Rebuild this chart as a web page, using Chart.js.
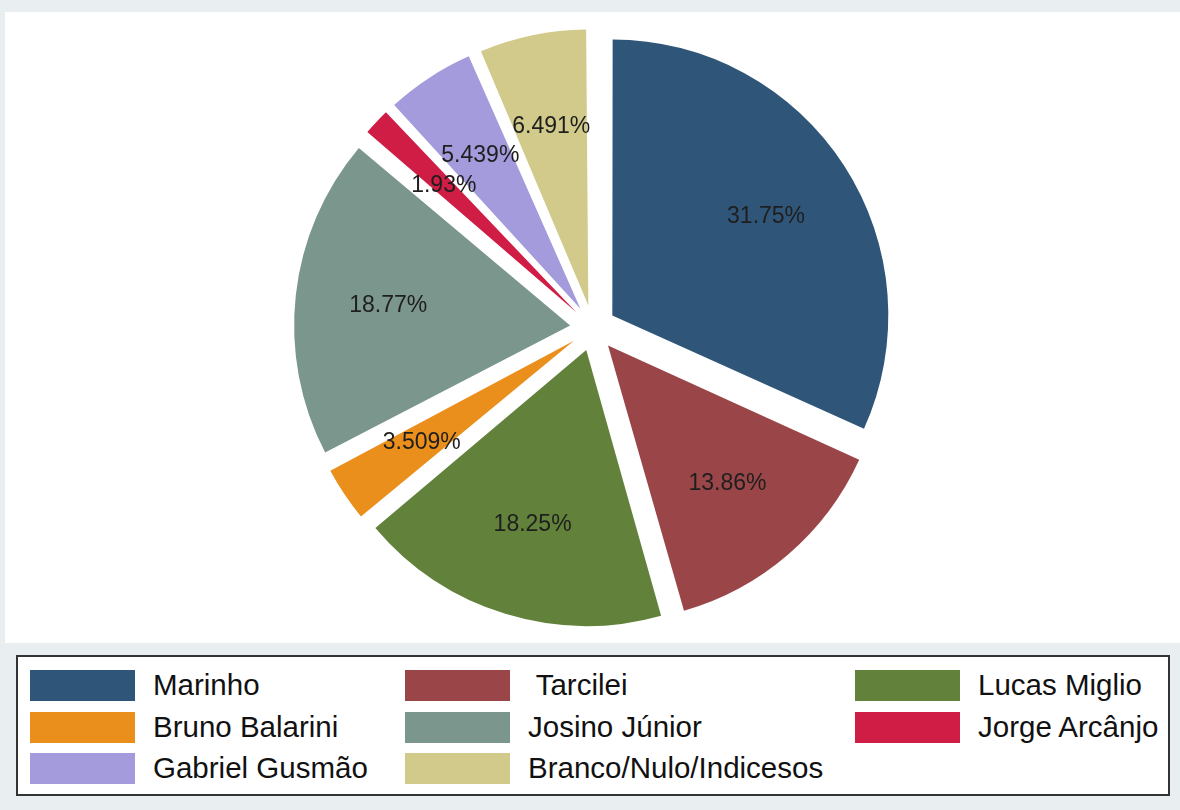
<!DOCTYPE html>
<html>
<head>
<meta charset="utf-8">
<script src="https://cdn.jsdelivr.net/npm/chart.js@4.4.1/dist/chart.umd.min.js"></script>
<style>
  html, body { margin: 0; padding: 0; }
  body { width: 1180px; height: 810px; background: #e9eef0; position: relative; overflow: hidden;
         font-family: "Liberation Sans", Arial, sans-serif; }
  #plot { position: absolute; left: 5px; top: 12px; width: 1175px; height: 631px; background: #fff; }
  #wrap { position: absolute; left: 0; top: 0; width: 1180px; height: 660px; }
  #legend { position: absolute; left: 16px; top: 655px; width: 1150px; height: 137px;
            background: #fff; border: 2px solid #333; }
  .item { position: absolute; height: 31px; }
  .sw { position: absolute; left: 0; top: 0; width: 105px; height: 31px; }
  .lb { position: absolute; left: 123px; top: -3px; font-size: 29.5px; color: #111; white-space: pre; line-height: 36px; }
</style>
</head>
<body>
<div id="plot"></div>
<div id="wrap"><canvas id="pieChart" width="1180" height="660"></canvas></div>
<div id="legend"></div>
<script>
// dados (sentido horário a partir das 12h)
const candidatos = ['Marinho', 'Tarcilei', 'Lucas Miglio', 'Bruno Balarini', 'Josino Júnior', 'Jorge Arcânjo', 'Gabriel Gusmão', 'Branco/Nulo/Indicesos'];
const percentuais = [31.75, 13.86, 18.25, 3.509, 18.77, 1.93, 5.439, 6.491];
const rotulos = ['31.75%', '13.86%', '18.25%', '3.509%', '18.77%', '1.93%', '5.439%', '6.491%'];
const legendaTextos = ['Marinho', ' Tarcilei', 'Lucas Miglio', 'Bruno Balarini', 'Josino Júnior', 'Jorge Arcânjo', 'Gabriel Gusmão', 'Branco/Nulo/Indicesos'];
const cores = ['#2f5679', '#9a4649', '#62823c', '#ea8f1c', '#7b968c', '#d01d45', '#a39bdc', '#d1ca8b'];

const RAIO = 276;
const EXPLODIR = 23; // px de deslocamento de cada fatia

// o Chart.js aumenta o raio das fatias pequenas junto com o offset; compensa aqui
const fixRaio = {
  id: 'fixRaio',
  beforeDatasetsDraw(chart) {
    chart.getDatasetMeta(0).data.forEach(arc => {
      const fix = 1 - Math.sin(Math.min(Math.PI, arc.circumference));
      arc.outerRadius = RAIO - EXPLODIR * fix;
    });
  }
};

// rótulos de porcentagem dentro das fatias
const sliceLabels = {
  id: 'sliceLabels',
  afterDatasetsDraw(chart) {
    const ctx = chart.ctx;
    const meta = chart.getDatasetMeta(0);
    ctx.save();
    ctx.font = '23px "Liberation Sans", Arial, sans-serif';
    ctx.fillStyle = '#1e1e1e';
    ctx.textAlign = 'center';
    ctx.textBaseline = 'middle';
    meta.data.forEach((arc, i) => {
      const mid = (arc.startAngle + arc.endAngle) / 2;
      const d = 206;
      ctx.fillText(rotulos[i], arc.x + Math.cos(mid) * d, arc.y + Math.sin(mid) * d);
    });
    ctx.restore();
  }
};

new Chart(document.getElementById('pieChart').getContext('2d'), {
  type: 'pie',
  data: {
    labels: candidatos,
    datasets: [{
      data: percentuais,
      backgroundColor: cores,
      borderWidth: 0,
      offset: EXPLODIR * 4 // o Chart.js desloca offset/4 px
    }]
  },
  options: {
    responsive: false,
    animation: false,
    radius: RAIO,
    layout: { padding: { left: 6, right: 0, top: 0, bottom: 4 } },
    plugins: {
      legend: { display: false },
      tooltip: { enabled: false }
    }
  },
  plugins: [fixRaio, sliceLabels]
});

// legenda em 3 colunas
const colX = [12, 387, 837];
const rowY = [13, 55, 96];
const legend = document.getElementById('legend');
candidatos.forEach((c, i) => {
  const item = document.createElement('div');
  item.className = 'item';
  item.style.left = colX[i % 3] + 'px';
  item.style.top = rowY[Math.floor(i / 3)] + 'px';
  const sw = document.createElement('div');
  sw.className = 'sw';
  sw.style.background = cores[i];
  const lb = document.createElement('div');
  lb.className = 'lb';
  lb.textContent = legendaTextos[i];
  item.appendChild(sw);
  item.appendChild(lb);
  legend.appendChild(item);
});
</script>
</body>
</html>
